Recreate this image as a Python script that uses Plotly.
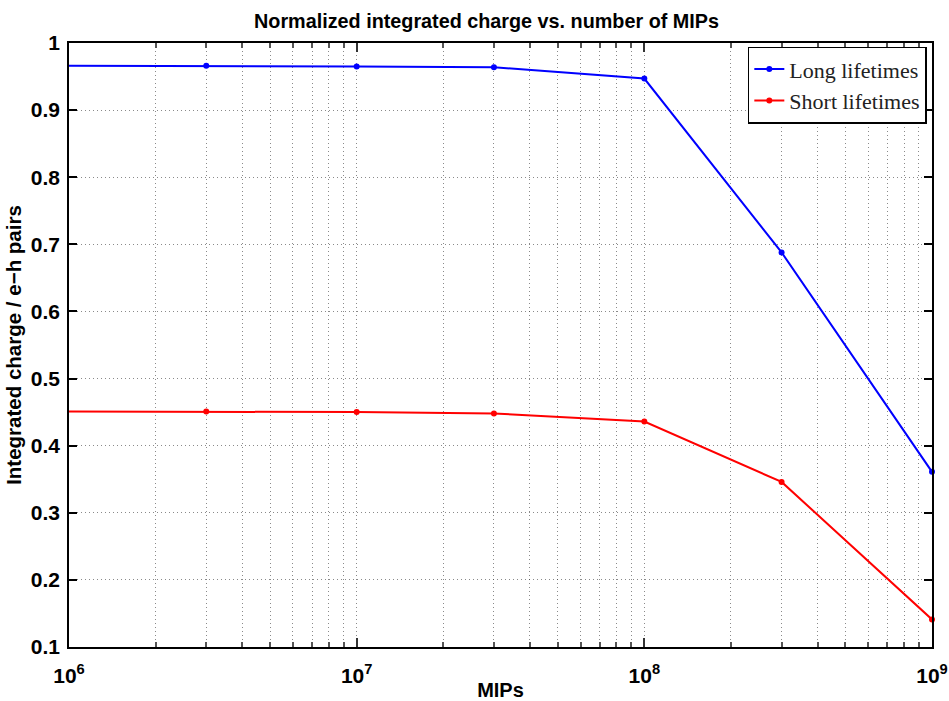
import plotly.graph_objects as go

mips = [1e6, 3e6, 1e7, 3e7, 1e8, 3e8, 1e9]
long_lifetimes = [0.966, 0.966, 0.965, 0.964, 0.947, 0.688, 0.361]
short_lifetimes = [0.451, 0.451, 0.450, 0.448, 0.436, 0.346, 0.141]

x_major = [1e6, 1e7, 1e8, 1e9]
x_major_text = ["<b>10<sup>6</sup></b>", "<b>10<sup>7</sup></b>", "<b>10<sup>8</sup></b>", "<b>10<sup>9</sup></b>"]
x_minor = [m * 10**e for e in (6, 7, 8) for m in range(2, 10)]
y_ticks = [0.1, 0.2, 0.3, 0.4, 0.5, 0.6, 0.7, 0.8, 0.9, 1.0]
y_text = ["<b>%s</b>" % s for s in ["0.1", "0.2", "0.3", "0.4", "0.5", "0.6", "0.7", "0.8", "0.9", "1"]]

SANS = "Liberation Sans, Arial, sans-serif"
SERIF = "Liberation Serif, Times New Roman, serif"
GRID = "rgba(60,60,60,0.6)"
DASH = "1px,3px"

fig = go.Figure()
fig.add_trace(go.Scatter(x=mips, y=long_lifetimes, mode="lines+markers", name="Long lifetimes",
                         line=dict(color="#0000ff", width=2), marker=dict(size=6, color="#0000ff"),
                         cliponaxis=False))
fig.add_trace(go.Scatter(x=mips, y=short_lifetimes, mode="lines+markers", name="Short lifetimes",
                         line=dict(color="#ff0000", width=2), marker=dict(size=6, color="#ff0000"),
                         cliponaxis=False))

fig.update_layout(
    width=949, height=701,
    margin=dict(l=69, r=17, t=43, b=54),
    paper_bgcolor="white", plot_bgcolor="white",
    title=dict(text="<b>Normalized integrated charge vs. number of MIPs</b>",
               x=486.5 / 949, xref="container", xanchor="center", y=1 - 21 / 701, yanchor="middle",
               font=dict(family=SANS, size=19.8, color="black")),
    showlegend=True,
    legend=dict(x=0.994, y=0.994, xanchor="right", yanchor="top",
                bgcolor="white", bordercolor="black", borderwidth=1.5,
                font=dict(family=SERIF, size=22, color="#222"),
                tracegroupgap=0, itemwidth=30),
)

fig.update_xaxes(
    type="log", range=[6, 9], automargin=False,
    tickmode="array", tickvals=x_major, ticktext=x_major_text,
    tickfont=dict(family=SANS, size=21, color="black"),
    ticklabelstandoff=9,
    ticks="inside", ticklen=9, tickwidth=1.5, tickcolor="#333",
    showline=True, linecolor="black", linewidth=1.5, mirror="ticks",
    showgrid=True, gridcolor=GRID, griddash=DASH, gridwidth=1,
    zeroline=False,
    minor=dict(tickmode="array", tickvals=x_minor, ticks="inside", ticklen=5,
               tickcolor="#555", showgrid=True, gridcolor=GRID, griddash=DASH, gridwidth=1),
    title=dict(text="<b>MIPs</b>", font=dict(family=SANS, size=20, color="black"), standoff=2),
)
fig.update_yaxes(
    range=[0.1, 1.0], automargin=False,
    tickmode="array", tickvals=y_ticks, ticktext=y_text,
    tickfont=dict(family=SANS, size=21, color="black"),
    ticklabelstandoff=3,
    ticks="inside", ticklen=8, tickwidth=1.5, tickcolor="black",
    showline=True, linecolor="black", linewidth=1.5, mirror="ticks",
    showgrid=True, gridcolor=GRID, griddash=DASH, gridwidth=1,
    zeroline=False,
    title=dict(text="<b>Integrated charge / e\u2212h pairs</b>",
               font=dict(family=SANS, size=20.5, color="black"), standoff=4),
)

fig.write_html("out.html")
